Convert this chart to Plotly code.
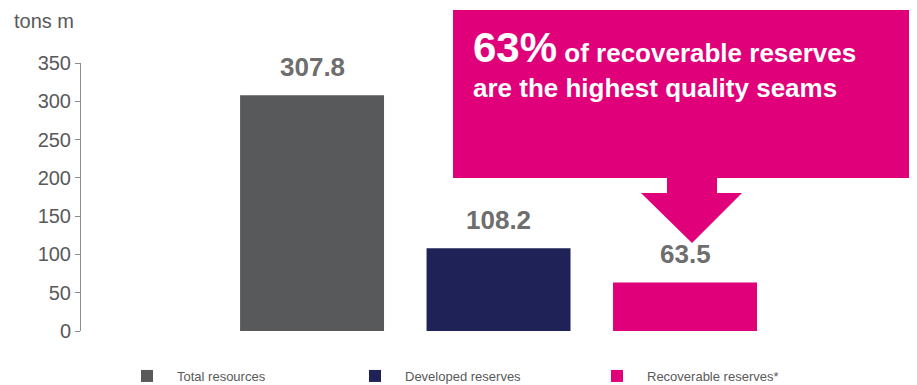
import plotly.graph_objects as go

categories = ["Total resources", "Developed reserves", "Recoverable reserves*"]
values = [307.8, 108.2, 63.5]
value_labels = ["307.8", "108.2", "63.5"]
colors = ["#58595b", "#1f2256", "#e0007a"]
y_ticks = [0, 50, 100, 150, 200, 250, 300, 350]

# the page body adds an 8px margin at top/left, so the figure is 8px smaller
OFF = 8
W, H = 917 - OFF, 385 - OFF
L, R, T, B = 81 - OFF, 0, 63 - OFF, 54
pw, ph = W - L - R, H - T - B
FONT = "Liberation Sans, Arial"

def px(x):
    return (x - OFF - L) / pw

def py(y):
    return (H - B - (y - OFF)) / ph

fig = go.Figure()
legend_names = ["legend", "legend2", "legend3"]
for i, (c, v, col) in enumerate(zip(categories, values, colors)):
    fig.add_trace(go.Bar(
        x=[i], y=[v], name=c,
        marker=dict(color=col, line=dict(width=0)), width=0.772,
        legend=legend_names[i],
    ))

value_annotations = [
    dict(text=f"<b>{lab}</b>", x=i, y=v, xref="x", yref="y",
         xanchor="center", yanchor="bottom", yshift=11, showarrow=False,
         font=dict(size=26, color="#6e6e6e", family=FONT))
    for i, (v, lab) in enumerate(zip(values, value_labels))
]

legend_x = [117, 345, 587]
common_legend = dict(orientation="h", yanchor="middle", y=py(376), xanchor="left",
                     itemwidth=50,
                     font=dict(size=13, color="#595959", family=FONT),
                     bgcolor="rgba(0,0,0,0)", borderwidth=0)

callout = (f"M{px(453)},{py(10)} L{px(917)},{py(10)} L{px(917)},{py(178)} "
           f"L{px(717)},{py(178)} L{px(717)},{py(193)} L{px(742)},{py(193)} "
           f"L{px(692)},{py(243)} L{px(641)},{py(193)} L{px(667)},{py(193)} "
           f"L{px(667)},{py(178)} L{px(453)},{py(178)} Z")

fig.update_layout(
    width=W, height=H,
    margin=dict(l=L, r=R, t=T, b=B, autoexpand=False),
    paper_bgcolor="white", plot_bgcolor="white",
    barmode="overlay",
    showlegend=True,
    legend=dict(common_legend, x=px(legend_x[0])),
    legend2=dict(common_legend, x=px(legend_x[1])),
    legend3=dict(common_legend, x=px(legend_x[2])),
    xaxis=dict(range=[-1.239, 3.244], showticklabels=False, showgrid=False,
               zeroline=False, showline=False, ticks=""),
    yaxis=dict(range=[0, 350], tickvals=y_ticks, showgrid=False, zeroline=False,
               showline=True, linecolor="#8c8c8c", linewidth=1,
               ticks="outside", ticklen=5, tickcolor="#8c8c8c",
               tickfont=dict(size=20, color="#595959", family=FONT)),
    shapes=[dict(type="path", xref="paper", yref="paper", path=callout,
                 fillcolor="#e0007a", line=dict(width=0), layer="above")],
    annotations=value_annotations + [
        dict(text="tons m", xref="paper", yref="paper", x=px(12), y=py(21),
             xanchor="left", yanchor="middle", showarrow=False,
             font=dict(size=20, color="#595959", family=FONT)),
        dict(text="<b><span style='font-size:42px'>63%</span> of recoverable reserves</b>",
             xref="paper", yref="paper", x=px(471), y=py(47),
             xanchor="left", yanchor="middle", showarrow=False,
             font=dict(size=26, color="white", family=FONT)),
        dict(text="<b>are the highest quality seams</b>",
             xref="paper", yref="paper", x=px(471), y=py(88),
             xanchor="left", yanchor="middle", showarrow=False,
             font=dict(size=26, color="white", family=FONT)),
    ],
)

fig.write_html("out.html")
